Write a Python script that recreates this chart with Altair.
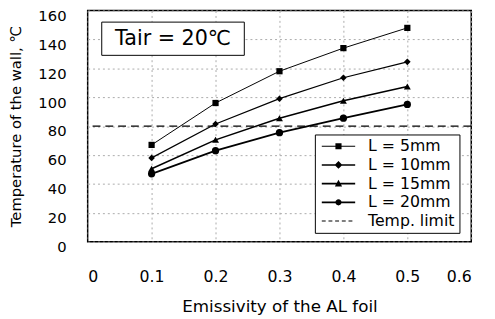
import altair as alt
import pandas as pd

# ---- data ----
emissivity = [0.1, 0.2, 0.3, 0.4, 0.5]
series_names = ["L = 5mm", "L = 10mm", "L = 15mm", "L = 20mm"]
temp_5mm = [67, 96, 118, 134, 148]
temp_10mm = [58, 81.5, 99, 113.5, 124.5]
temp_15mm = [50.5, 70.5, 85.5, 97.5, 107.5]
temp_20mm = [47, 63, 75.5, 85.5, 95]
limit_name = "Temp. limit"
temp_limit = [80]
x_ticks = [0, 0.1, 0.2, 0.3, 0.4, 0.5, 0.6]
y_ticks = [0, 20, 40, 60, 80, 100, 120, 140, 160]
annotation_text = ["Tair = 20℃"]
annotation_x = [0.022, 0.245]
annotation_y = [129, 152]

FONT = "DejaVu Sans"

rows = []
for name, vals in zip(series_names, [temp_5mm, temp_10mm, temp_15mm, temp_20mm]):
    for e, t in zip(emissivity, vals):
        rows.append({"series": name, "eps": e, "temp": t})
df = pd.DataFrame(rows)

xscale = alt.Scale(domain=[0, 0.6], nice=False, zero=False)
yscale = alt.Scale(domain=[0, 160], nice=False)

xaxis = alt.Axis(values=x_ticks, format="~g", title="Emissivity of the AL foil",
                 labelPadding=27, titlePadding=15, grid=True, labelOverlap=False,
                 gridColor="#aaaaaa", gridDash=[2, 3], gridOpacity=1)
yaxis = alt.Axis(values=y_ticks, title="Temperature of the wall, ℃",
                 labelPadding=22, labelOffset=5, titlePadding=15, grid=True, labelOverlap=False,
                 gridColor="#aaaaaa", gridDash=[2, 3], gridOpacity=1)


def X(field):
    return alt.X(field, scale=xscale, axis=xaxis)


def Y(field):
    return alt.Y(field, scale=yscale, axis=yaxis)


base = alt.Chart(df)

lines = base.mark_line(color="black").encode(
    x=X("eps:Q"), y=Y("temp:Q"), detail="series:N",
    strokeWidth=alt.StrokeWidth("series:N", scale=alt.Scale(domain=series_names, range=[1, 1.8, 1.8, 1.8]), legend=None),
)

points = base.mark_point(filled=True, color="black", opacity=1).encode(
    x=X("eps:Q"), y=Y("temp:Q"),
    shape=alt.Shape("series:N", scale=alt.Scale(domain=series_names,
                    range=["square", "diamond", "triangle-up", "circle"]), legend=None),
    size=alt.Size("series:N", scale=alt.Scale(domain=series_names, range=[40, 55, 45, 45]), legend=None),
)

limit = alt.Chart(pd.DataFrame({"temp": temp_limit})).mark_rule(
    color="black", strokeDash=[8, 5], strokeWidth=1.5
).encode(y=Y("temp:Q"))

# legend symbols as filled paths: a thin bar (line) plus the marker
legend_names = series_names + [limit_name]
bar_thin = "M-3,-0.09H3V0.09H-3Z"
bar = "M-3,-0.15H3V0.15H-3Z"
legend_paths = [
    bar_thin + "M-0.55,-0.55H0.55V0.55H-0.55Z",
    bar + "M0,-0.7L0.7,0L0,0.7L-0.7,0Z",
    bar + "M0,-0.7L0.65,0.5H-0.65Z",
    bar + "M0.55,0A0.55,0.55 0 1 1 -0.55,0A0.55,0.55 0 1 1 0.55,0Z",
    "M-3,-0.1H-2.3V0.1H-3ZM-1.8,-0.1H-1.1V0.1H-1.8ZM-0.6,-0.1H0.1V0.1H-0.6Z"
    "M0.6,-0.1H1.3V0.1H0.6ZM1.8,-0.1H2.5V0.1H1.8Z",
]
leg = alt.Legend(title=None, orient="none", legendX=231, legendY=126)
legend_layer = alt.Chart(pd.DataFrame({"entry": legend_names, "eps": [0.3] * 5, "temp": [50] * 5})).transform_filter(
    "false"
).mark_point(filled=True, color="black", opacity=1).encode(
    x=X("eps:Q"), y=Y("temp:Q"),
    shape=alt.Shape("entry:N", scale=alt.Scale(domain=legend_names, range=legend_paths), legend=leg),
)

box = alt.Chart(pd.DataFrame({"x": [annotation_x[0]], "x2": [annotation_x[1]],
                              "y": [annotation_y[0]], "y2": [annotation_y[1]]})).mark_rect(
    fill="white", stroke="black", strokeWidth=1
).encode(x=X("x:Q"), x2="x2:Q", y=Y("y:Q"), y2="y2:Q")

label = alt.Chart(pd.DataFrame({"t": annotation_text, "x": [sum(annotation_x) / 2],
                                "y": [sum(annotation_y) / 2]})).mark_text(
    font=FONT, fontSize=21, color="black", align="center", baseline="middle"
).encode(x=X("x:Q"), y=Y("y:Q"), text="t:N")

chart = alt.layer(lines, points, limit, box, label, legend_layer).resolve_scale(
    shape="independent"
).properties(
    width=390, height=235,
    autosize=alt.AutoSizeParams(type="none"),
    padding={"left": 81, "top": 0, "right": 16, "bottom": 76},
).configure_view(
    stroke="black", strokeWidth=1.5
).configure_axis(
    labelFont=FONT, labelFontSize=15, labelColor="black",
    titleFont=FONT, titleFontSize=16, titleFontWeight="normal", titleColor="black",
    domain=False, ticks=False,
).configure_axisX(
    labelFontSize=16, titleFontSize=17,
).configure_axisY(
    titleFontSize=15,
).configure_legend(
    strokeColor="black", fillColor="white", padding=4,
    labelFont=FONT, labelFontSize=16, labelColor="black",
    symbolSize=128, symbolStrokeWidth=0, symbolFillColor="black",
    symbolOffset=12, labelOffset=22, rowPadding=3,
)

chart.save("out.html", embed_options={"renderer": "svg", "actions": False})
